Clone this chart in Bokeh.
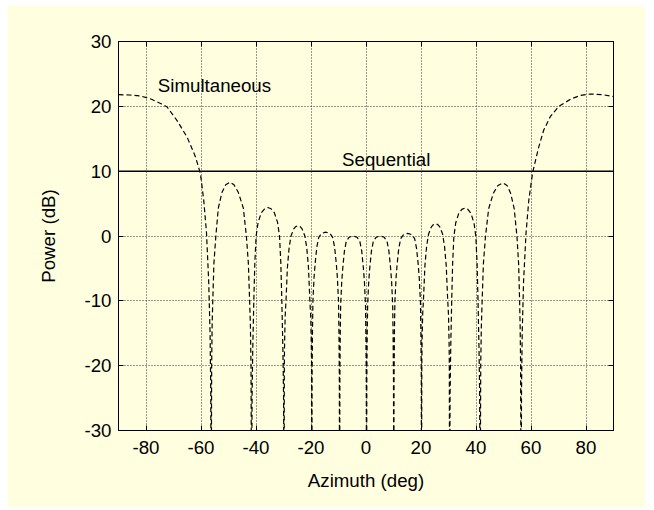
from bokeh.plotting import figure
from bokeh.models import Range1d, LinearAxis, FixedTicker, Label, CustomJSTickFormatter
from bokeh.embed import file_html
from bokeh.resources import INLINE

# ---- data ----
sim_az = [
    -90, -86, -82, -78, -74.5, -72.3, -68.7, -65, -62, -60.2, -59, -58, -57.2, -56.7, -56.45, -56.3,
    -56.12, -55.95, -55.7, -55.3, -54.6, -53.7, -52.4, -51.0, -49.5, -48.0, -46.4, -44.6, -43.5, -42.78, -42.34, -42.04, -41.82, -41.6,
    -41.42, -41.19, -40.77, -40.42, -39.95, -39.24, -38.06, -36.88, -35.7, -34.52, -33.34, -32.16, -31.45, -30.98, -30.63, -30.21, -29.98, -29.8,
    -29.7, -29.6, -29.4, -29.09, -28.59, -27.98, -27.28, -26.27, -25.56, -24.75, -23.94, -23.23, -22.23, -21.52, -20.91, -20.41, -20.10, -19.90, -19.80, -19.7,
    -19.6, -19.45, -19.3, -18.89, -18.49, -17.88, -17.18, -16.17, -14.65, -13.13, -12.13, -11.42, -10.81, -10.41, -10.0, -9.85, -9.7, -9.6,
    -9.5, -9.36, -9.21, -8.82, -8.42, -7.84, -7.15, -6.17, -4.7, -3.23, -2.25, -1.56, -0.98, -0.58, -0.19, -0.05, 0.10, 0.2,
    0.30, 0.45, 0.60, 0.99, 1.39, 1.98, 2.68, 3.67, 5.15, 6.64, 7.63, 8.32, 8.91, 9.31, 9.70, 9.85, 10.0, 10.1,
    10.2, 10.35, 10.5, 10.91, 11.31, 11.92, 12.63, 13.64, 15.15, 16.67, 17.68, 18.38, 18.99, 19.39, 19.8, 19.95, 20.1, 20.2,
    20.3, 20.4, 20.61, 20.91, 21.42, 22.04, 22.75, 23.77, 24.49, 25.3, 26.11, 26.83, 27.85, 28.56, 29.18, 29.69, 29.99, 30.2, 30.3, 30.4,
    30.57, 30.79, 31.18, 31.51, 31.95, 32.62, 33.73, 34.84, 35.95, 37.06, 38.17, 39.28, 39.95, 40.39, 40.72, 41.11, 41.33, 41.5,
    41.72, 41.95, 42.25, 42.69, 43.44, 44.6, 46.3, 48.0, 49.8, 51.3, 52.6, 53.9, 54.9, 55.5, 55.85, 56.05, 56.22, 56.4,
    56.55, 56.8, 57.3, 58.2, 59.2, 60.6, 62.8, 64.6, 67.0, 70.1, 74.4, 78.0, 81.6, 86.0, 90.0,
]
sim_db = [
    21.8, 21.75, 21.6, 21.1, 20.4, 19.9, 17.8, 15.2, 12.2, 9.6, 5.5, 0.5, -7.0, -15.0, -24.0, -45,
    -19.7, -13.7, -9.7, -4.2, 0.0, 4.3, 6.7, 7.9, 8.3, 7.9, 6.7, 4.3, 0.0, -4.2, -9.7, -13.7, -19.7, -45,
    -24.6, -17.6, -9.6, -4.1, 0.0, 2.1, 3.6, 4.2, 4.4, 4.2, 3.6, 2.1, 0.0, -4.1, -9.6, -17.6, -24.6, -45,
    -20.0, -16.4, -12.4, -10.0, -4.9, -1.9, 0.0, 1.1, 1.45, 1.6, 1.45, 1.1, 0.0, -1.9, -4.9, -10.0, -12.4, -16.4, -20.0, -45,
    -21.4, -14.4, -10.0, -6.4, -4.2, -1.7, -0.2, 0.4, 0.6, 0.4, -0.2, -1.7, -4.2, -6.4, -10.0, -14.4, -21.4, -45,
    -22.0, -15.0, -10.6, -7.0, -4.8, -2.3, -0.8, -0.2, 0.0, -0.2, -0.8, -2.3, -4.8, -7.0, -10.6, -15.0, -22.0, -45,
    -22.0, -15.0, -10.6, -7.0, -4.8, -2.3, -0.8, -0.2, 0.0, -0.2, -0.8, -2.3, -4.8, -7.0, -10.6, -15.0, -22.0, -45,
    -21.6, -14.6, -10.2, -6.6, -4.4, -1.9, -0.4, 0.2, 0.4, 0.2, -0.4, -1.9, -4.4, -6.6, -10.2, -14.6, -21.6, -45,
    -19.7, -16.1, -12.1, -9.7, -4.6, -1.6, 0.3, 1.4, 1.75, 1.9, 1.75, 1.4, 0.3, -1.6, -4.6, -9.7, -12.1, -16.1, -19.7, -45,
    -24.7, -17.7, -9.7, -4.2, -0.1, 2.0, 3.5, 4.1, 4.3, 4.1, 3.5, 2.0, -0.1, -4.2, -9.7, -17.7, -24.7, -45,
    -19.8, -13.8, -9.8, -4.3, -0.1, 4.2, 6.6, 7.8, 8.2, 7.8, 6.6, 4.2, -0.1, -4.3, -9.8, -13.8, -19.8, -45,
    -24.0, -15.0, -7.0, 0.5, 5.5, 9.8, 13.7, 16.3, 18.4, 20.0, 21.1, 21.7, 21.9, 21.8, 21.5,
]
seq_az = [-90, 90]
seq_db = [10, 10]

x_ticks = [-80, -60, -40, -20, 0, 20, 40, 60, 80]
y_ticks = [-30, -20, -10, 0, 10, 20, 30]

BG = "#FFFFE0"
FONT = "Liberation Sans"
FS = "18.7px"

p = figure(
    frame_width=495, frame_height=389,
    x_range=Range1d(-90, 90), y_range=Range1d(-30, 30),
    output_backend="svg", toolbar_location=None,
    min_border_left=111, min_border_right=32, min_border_top=36, min_border_bottom=77,
    background_fill_color=BG, border_fill_color=BG,
    outline_line_color="black", outline_line_width=1,
)
p.margin = (5, 0, 0, 7)

# grid
for g, t in ((p.xgrid, x_ticks), (p.ygrid, y_ticks)):
    g.ticker = FixedTicker(ticks=t)
    g.grid_line_color = "#333333"
    g.grid_line_dash = "1 2"
    g.grid_line_width = 1

# main axes
plain = CustomJSTickFormatter(code="return String(tick)")
p.xaxis.ticker = FixedTicker(ticks=x_ticks)
p.yaxis.ticker = FixedTicker(ticks=y_ticks)
p.xaxis.formatter = plain
p.yaxis.formatter = plain
p.xaxis.axis_label = "Azimuth (deg)"
p.yaxis.axis_label = "Power (dB)"

def style_axis(ax):
    ax.axis_line_color = "black"
    ax.major_tick_line_color = "black"
    ax.major_tick_in = 5
    ax.major_tick_out = 0
    ax.minor_tick_line_color = None
    ax.major_label_text_font = FONT
    ax.major_label_text_font_size = FS
    ax.major_label_text_color = "black"
    ax.axis_label_text_font = FONT
    ax.axis_label_text_font_size = FS
    ax.axis_label_text_font_style = "normal"
    ax.axis_label_text_color = "black"

for ax in p.xaxis + p.yaxis:
    style_axis(ax)
p.xaxis.major_label_standoff = 10
p.xaxis.axis_label_standoff = 13
p.yaxis.major_label_standoff = 7
p.yaxis.axis_label_standoff = 22

blank = CustomJSTickFormatter(code="return ''")
top_ax = LinearAxis(ticker=FixedTicker(ticks=x_ticks), formatter=blank)
right_ax = LinearAxis(ticker=FixedTicker(ticks=y_ticks), formatter=blank)
for ax in (top_ax, right_ax):
    style_axis(ax)
p.add_layout(top_ax, "above")
p.add_layout(right_ax, "right")

# curves
p.line(sim_az, sim_db, line_color="black", line_width=1.2, line_dash="5 3")
p.line(seq_az, seq_db, line_color="black", line_width=1.5)

p.add_layout(Label(x=-75.7, y=23.27, text="Simultaneous", text_font=FONT,
                   text_font_size=FS, text_color="black", text_baseline="alphabetic"))
p.add_layout(Label(x=-8.7, y=11.84, text="Sequential", text_font=FONT,
                   text_font_size=FS, text_color="black", text_baseline="alphabetic"))

open("out.html", "w").write(file_html(p, INLINE))
